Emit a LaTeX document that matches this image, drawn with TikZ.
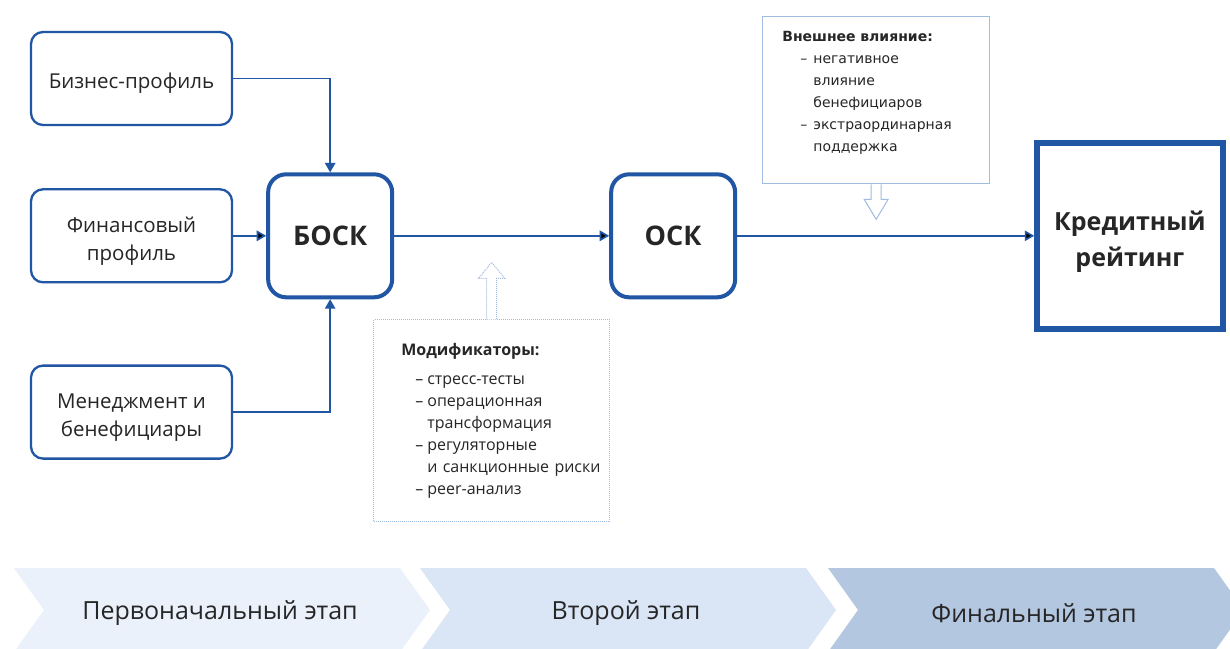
\documentclass[tikz,border=0pt]{standalone}
\usepackage{fontspec}
\setmainfont{Open Sans}
\newfontfamily\notefont{DejaVu Sans}
\usetikzlibrary{arrows,positioning}

\definecolor{mainblue}{RGB}{33,86,164}
\definecolor{lightblue}{RGB}{160,188,226}
\definecolor{textgray}{RGB}{38,38,38}
\definecolor{stageA}{RGB}{235,241,250}
\definecolor{stageB}{RGB}{218,229,246}
\definecolor{stageC}{RGB}{180,199,225}

\newcommand{\dashitem}[2]{\hspace*{#1}\makebox[#2][l]{–}}
\newcommand{\lift}[1]{\rule{0pt}{#1}}

\begin{document}
\begin{tikzpicture}[x=1pt,y=-1pt]
  
  \tikzset{main node/.style={rectangle, draw=mainblue, line width=2.3pt, text=textgray,
  		text centered, align=center, rounded corners=12pt,
  		minimum width=201pt, minimum height=93pt,
  		font=\fontsize{20.5}{28}\selectfont}, }
  \tikzset{main verb/.style={main node, line width=4pt, rounded corners=18pt,
  		minimum width=124pt, minimum height=123pt,
  		font=\fontsize{27}{32}\selectfont\bfseries}, }
  \tikzset{note node/.style={rectangle, draw=lightblue, line width=1pt}, }
  \tikzset{note text/.style={inner sep=0pt, align=left, text=textgray, text width=215pt}, }
  \tikzset{hollow/.style={draw=lightblue, line width=1pt, fill=white}, }
  \tikzset{linea/.style={-triangle 60, draw=mainblue, line width=1.6pt}, }
\clip (0,0) rectangle (1230,648);
\fill[white] (0,0) rectangle (1230,648);
\node[main node] (1) at (131.5,78.5) {\lift{25pt}Бизнес-профиль};
\node[main node] (2) [below=62pt of 1]  {\lift{26pt}Финансовый\\профиль};
\node[main node] (3) [below=81pt of 2]  {\lift{26pt}Менеджмент и\\бенефициары};
\node[main verb] (4) [right=33pt of 2]  {БОСК};
\node[main verb] (5) [right=215pt of 4]  {ОСК};
\node[main verb, rounded corners=0pt, line width=5.5pt, minimum width=186pt,
  minimum height=186pt, font=\fontsize{25}{36}\selectfont\bfseries]
  (6) [right=297pt of 5]  {\lift{31pt}Кредитный\\рейтинг};
\node[note node, dash pattern=on 1pt off 1pt, minimum width=236pt, minimum height=202pt]
  (7) [below right=20pt and -21pt of 4.south east] {};
\node[note node, minimum width=227pt, minimum height=167pt]
  (8) [above right=-12pt and 25pt of 5.north east] {};

\node[note text, font=\fontsize{16}{22}\selectfont] (7t) [below right=24pt and 28pt of 7.north west]
  {\textbf{Модификаторы:}\\[7pt]
  \dashitem{14pt}{12pt}стресс-тесты\\
  \dashitem{14pt}{12pt}операционная\\
  \hspace*{26pt}трансформация\\
  \dashitem{14pt}{12pt}регуляторные\\
  \hspace*{26pt}и санкционные риски\\
  \dashitem{14pt}{12pt}peer-анализ};
\node[note text, font=\notefont\fontsize{14}{22}\selectfont] (8t) [below right=15pt and 20pt of 8.north west]
  {\textbf{Внешнее влияние:}\\
  \dashitem{18pt}{13pt}негативное\\
  \hspace*{31pt}влияние\\
  \hspace*{31pt}бенефициаров\\
  \dashitem{18pt}{13pt}экстраординарная\\
  \hspace*{31pt}поддержка};

% hollow block arrows
\draw[hollow, dash pattern=on 1pt off 1pt] ([xshift=-5pt]7.north) -- ++(0,-41) -- ++(-8,0)
  -- ++(13,-16) -- ++(13,16) -- ++(-8,0) -- ++(0,41);
\draw[hollow] ([xshift=-5pt]8.south) -- ++(0,15) -- ++(-7,0)
  -- ++(12,20) -- ++(12,-20) -- ++(-7,0) -- ++(0,-15);

\draw[linea] (1) -| (4);
\draw[linea] (3) -| (4);
\foreach \x /\y in {2/4,4/5,5/6}
  \path[linea] (\x) edge node {} (\y);

% stages
\foreach \x /\c /\t in {14/stageA/Первоначальный этап,420/stageB/Второй этап,828/stageC/Финальный этап}
{
  \fill[\c] (\x,568) -- ++(386,0) -- ++(30,42) -- ++(-30,42) -- ++(-386,0) -- ++(30,-42) -- cycle;
  \node[text=textgray, font=\fontsize{25}{28}\selectfont] (s\x) at (\x+206,613) {\t};
}
%%  
\end{tikzpicture}
\end{document}
